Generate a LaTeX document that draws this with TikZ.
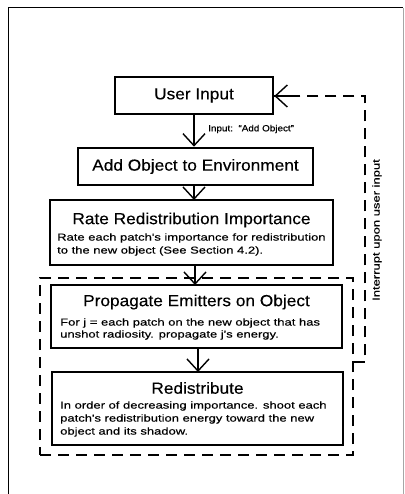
\documentclass[tikz,border=0pt]{standalone}
\usepackage{fontspec}
\setmainfont{Liberation Sans}
\newfontfamily\titlefont[FakeStretch=1.08,FakeBold=0.3]{Liberation Sans}
\newfontfamily\smallfont[FakeStretch=1.3,FakeBold=0.4]{Liberation Sans}
\newfontfamily\labelfont[FakeStretch=1.1,FakeBold=0.3]{Liberation Sans}
\usetikzlibrary{arrows.meta}
\tikzset{
  stepbox/.style={draw, line width=2.6pt, inner sep=0pt},
  flow/.style={line width=1.4pt, -{Straight Barb[length=12pt,width=22pt,line width=1.4pt]}},
  feedback/.style={line width=1.3pt, dash pattern=on 11pt off 7pt},
  title/.style={font=\titlefont\fontsize{16}{18}\selectfont, inner sep=0pt},
  body/.style={font=\smallfont\fontsize{10}{12}\selectfont, inner sep=0pt, anchor=west},
}
\begin{document}
\begin{tikzpicture}[x=1pt,y=-1pt]
\useasboundingbox (0,0) rectangle (404,494);
% frame
\draw[line width=1pt] (8,494) -- (8,8) -- (403,8);
\draw[line width=0.5pt, black!35] (403,8) -- (403,494);

% boxes
\node[stepbox, minimum width=158pt, minimum height=37pt] (ui) at (194,95.5) {};
\node[stepbox, minimum width=235pt, minimum height=37pt] (ao) at (195.5,166.5) {};
\node[stepbox, minimum width=283pt, minimum height=65pt] (rr) at (191.5,232.5) {};
\node[stepbox, minimum width=291pt, minimum height=63pt] (pe) at (196.5,316.5) {};
\node[stepbox, minimum width=291pt, minimum height=73pt] (rd) at (197.5,408.5) {};
\node[draw, feedback, minimum width=313pt, minimum height=177pt, inner sep=0pt] (grp) at (196.5,366.5) {};

% texts
\node[title] (tui) at (ui) {User Input};
\node[title] (tao) at (ao) {Add Object to Environment};
\node[title] (trr) at (191.5,220) {Rate Redistribution Importance};
\node[body] (rr1) at (57,238) {Rate each patch's importance for redistribution};
\node[body] (rr2) at (57,251) {to the new object (See Section 4.2).};
\node[title] (tpe) at (196.5,302) {Propagate Emitters on Object};
\node[body] (pe1) at (60,323) {For j = each patch on the new object that has};
\node[body] (pe2) at (60,335) {unshot radiosity. propagate j's energy.};
\node[title] (trd) at (197.5,388) {Redistribute};
\node[body] (rd1) at (60,406) {In order of decreasing importance. shoot each};
\node[body] (rd2) at (60,419) {patch's redistribution energy toward the new};
\node[body] (rd3) at (60,432) {object and its shadow.};
\node[font=\labelfont\fontsize{9}{10}\selectfont, inner sep=0pt, anchor=west] (lab) at (208,129) {Input:\ \ “Add Object”};
\node[font=\smallfont\fontsize{10}{12}\selectfont, inner sep=0pt, rotate=90] (intr) at (377,230) {Interrupt upon user input};

% flow arrows
\draw[flow] (ui.south) -- (ui.south |- ao.north);
\draw[flow] (194,185) -- (194,200);
\draw[flow] (195,265) -- (195,285);
\draw[flow] (198,348) -- (198,372);

% feedback loop
\coordinate (fb1) at (365,362);
\coordinate (fb2) at (365,96);
\draw[feedback] (grp.east |- fb1) -- (fb1) -- (fb2) -- (ui.east |- fb2);
\draw[line width=1.4pt, -{Straight Barb[length=12pt,width=22pt,line width=1.4pt]}] (290,96) -- (ui.east |- fb2);
\end{tikzpicture}
\end{document}
